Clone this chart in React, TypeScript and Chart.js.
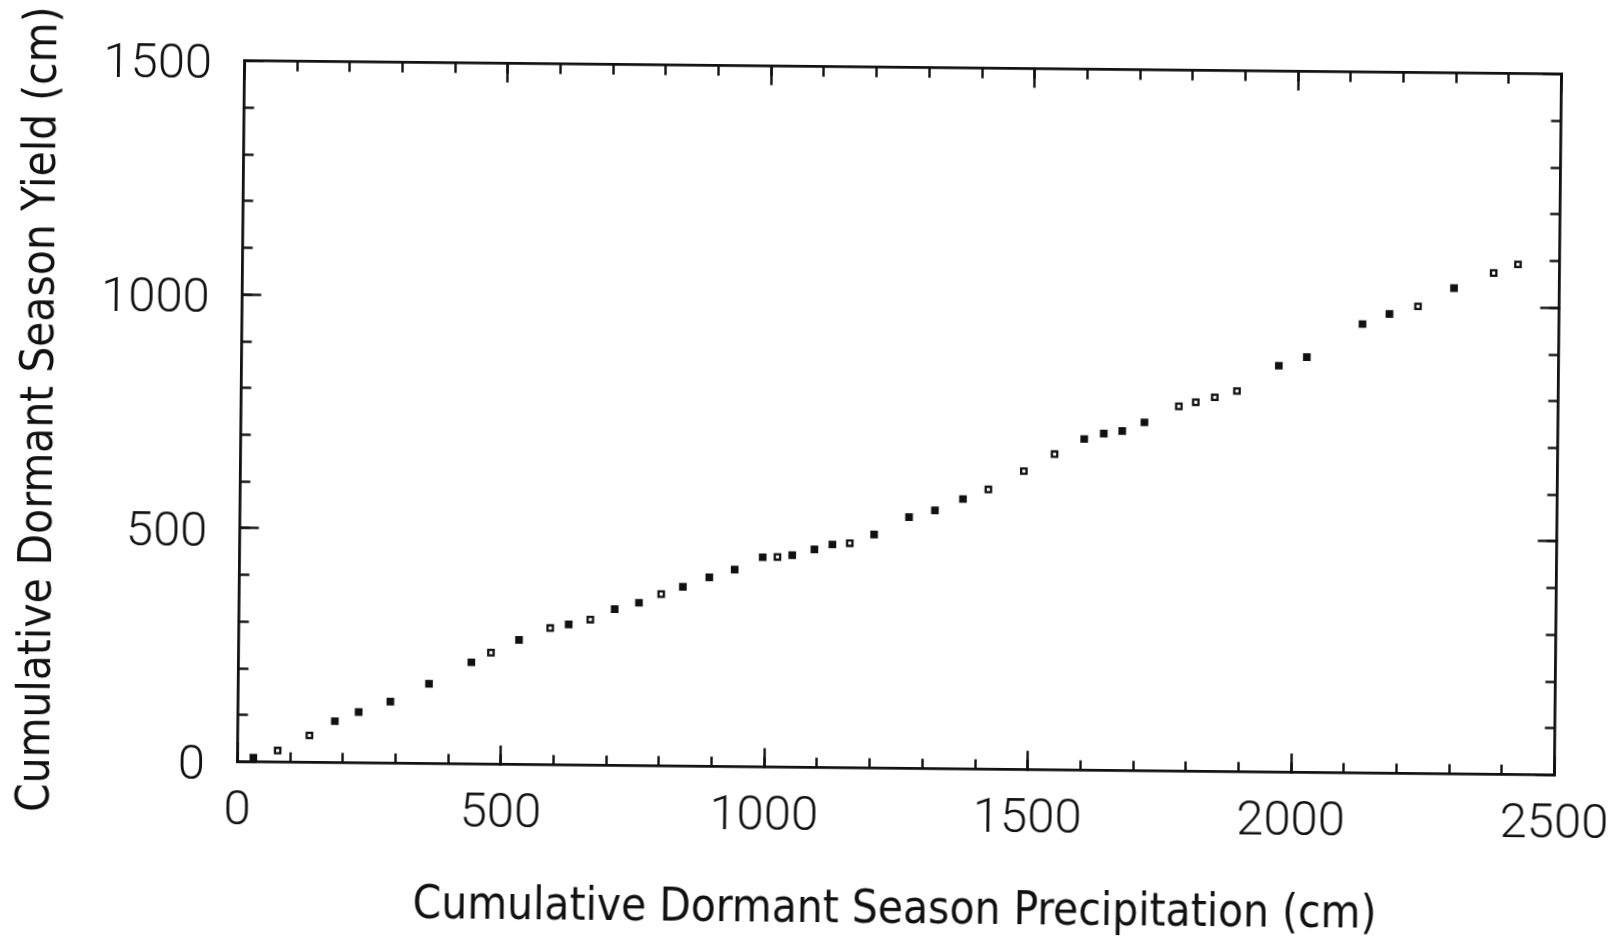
import { useEffect, useRef } from "react";
import { Chart, registerables } from "chart.js";

Chart.register(...registerables);

// ---- data ----
const precipitation = [
  30, 76, 136, 184, 229, 289, 362, 442, 479, 532, 591, 626, 667, 713, 759, 801,
  842, 892, 940, 993, 1021, 1049, 1091, 1125, 1158, 1204, 1270, 1319, 1372, 1420,
  1487, 1545, 1601, 1638, 1673, 1715, 1780, 1812, 1848, 1890, 1969, 2022, 2127,
  2178, 2232, 2300, 2375, 2421,
];
const yieldValues = [
  9, 25, 58, 89, 109, 132, 171, 218, 239, 267, 293, 301, 312, 335, 349, 368,
  384, 405, 422, 449, 450, 454, 467, 478, 481, 500, 538, 553, 578, 599,
  639, 676, 709, 721, 727, 746, 781, 790, 801, 815, 870, 889, 961,
  983, 1000, 1040, 1073, 1092,
];
// points that print as open squares in the reference
const hollowPoints = [1, 2, 8, 10, 12, 15, 20, 24, 29, 30, 31, 36, 37, 38, 39, 44, 46, 47];

const xTickValues = [0, 500, 1000, 1500, 2000, 2500];
const yTickValues = [0, 500, 1000, 1500];
const minorStep = 100;

const xTitle = "Cumulative Dormant Season Precipitation (cm)";
const yTitle = "Cumulative Dormant Season Yield (cm)";

// ---- layout / style ----
const INK = "#111111";
const W = 1623;
const H = 939;
const PLOT = { left: 240.5, top: 66.6, right: 1557.5, bottom: 767.6 };
const MAJOR = 19;
const MINOR = 10;
const TICK_FONT = { family: "Roboto, 'DejaVu Sans', sans-serif", size: 49, weight: 300, lineHeight: 1 };
const TITLE_FONT = {
  family: "'DejaVu Sans Condensed', 'DejaVu Sans', sans-serif",
  size: 45.5,
  lineHeight: 1,
};

const marks = (len: number) => ({
  display: true,
  drawOnChartArea: false,
  drawTicks: true,
  tickLength: -len,
  tickWidth: 2.4,
  tickColor: INK,
});
const frame = { display: true, color: INK, width: 2.8 };
const noBorder = { display: false };
const fixedTicks = (vals: number[]) => (s: any) => {
  s.ticks = vals.map((v) => ({ value: v }));
};
const sized = (w: number | null, h: number | null) => (s: any) => {
  if (w !== null) s.width = w;
  if (h !== null) s.height = h;
  s.paddingLeft = 0;
  s.paddingRight = 0;
  s.paddingTop = 0;
  s.paddingBottom = 0;
};

export default function App() {
  const ref = useRef<HTMLCanvasElement>(null);

  useEffect(() => {
    const points = precipitation.map((x, i) => ({ x, y: yieldValues[i] }));
    const chart = new Chart(ref.current as HTMLCanvasElement, {
      type: "scatter",
      data: {
        datasets: [
          {
            data: points,
            xAxisID: "x",
            yAxisID: "y",
            pointStyle: "rect",
            pointRadius: 3.8,
            pointHoverRadius: 3.8,
            borderWidth: 2.3,
            borderColor: INK,
            backgroundColor: (ctx: any) =>
              hollowPoints.includes(ctx.dataIndex) ? "#ffffff" : INK,
          },
        ],
      },
      options: {
        animation: false,
        responsive: false,
        devicePixelRatio: 1,
        events: [],
        layout: {
          padding: { left: 0, top: PLOT.top, right: W - PLOT.right, bottom: 0 },
        },
        plugins: { legend: { display: false }, tooltip: { enabled: false } },
        scales: {
          x: {
            type: "linear",
            position: "bottom",
            weight: 1,
            min: 0,
            max: 2500,
            afterBuildTicks: fixedTicks(xTickValues),
            ticks: {
              autoSkip: false,
              maxRotation: 0,
              padding: 45,
              font: TICK_FONT,
              color: INK,
              callback: (v: any) => String(v),
            },
            grid: marks(MAJOR),
            border: frame,
            title: {
              display: true,
              text: xTitle,
              font: TITLE_FONT,
              color: INK,
              padding: { top: 0, bottom: 6.5 },
            },
            afterFit: sized(null, H - PLOT.bottom),
          },
          xMinor: {
            type: "linear",
            position: "bottom",
            weight: 0,
            min: 0,
            max: 2500,
            ticks: { display: false, stepSize: minorStep, maxTicksLimit: 100 },
            grid: marks(MINOR),
            border: noBorder,
            afterFit: sized(null, 0),
          },
          xTop: {
            type: "linear",
            position: "top",
            min: 0,
            max: 2500,
            afterBuildTicks: fixedTicks(xTickValues),
            ticks: { display: false },
            grid: marks(MAJOR),
            border: frame,
            afterFit: sized(null, 0),
          },
          xTopMinor: {
            type: "linear",
            position: "top",
            min: 0,
            max: 2500,
            ticks: { display: false, stepSize: minorStep, maxTicksLimit: 100 },
            grid: marks(MINOR),
            border: noBorder,
            afterFit: sized(null, 0),
          },
          y: {
            type: "linear",
            position: "left",
            weight: 1,
            min: 0,
            max: 1500,
            afterBuildTicks: fixedTicks(yTickValues),
            ticks: {
              autoSkip: false,
              padding: 51.5,
              labelOffset: 5.5,
              font: TICK_FONT,
              color: INK,
              callback: (v: any) => String(v),
            },
            grid: marks(MAJOR),
            border: frame,
            title: {
              display: true,
              text: yTitle,
              font: TITLE_FONT,
              color: INK,
              padding: { top: 17, bottom: 0 },
            },
            afterFit: sized(PLOT.left, null),
          },
          yMinor: {
            type: "linear",
            position: "left",
            weight: 0,
            min: 0,
            max: 1500,
            ticks: { display: false, stepSize: minorStep, maxTicksLimit: 100 },
            grid: marks(MINOR),
            border: noBorder,
            afterFit: sized(0, null),
          },
          yRight: {
            type: "linear",
            position: "right",
            min: 0,
            max: 1500,
            afterBuildTicks: fixedTicks(yTickValues),
            ticks: { display: false },
            grid: marks(MAJOR),
            border: frame,
            afterFit: sized(0, null),
          },
          yRightMinor: {
            type: "linear",
            position: "right",
            min: 0,
            max: 1500,
            ticks: { display: false, stepSize: minorStep, maxTicksLimit: 100 },
            grid: marks(MINOR),
            border: noBorder,
            afterFit: sized(0, null),
          },
        } as any,
      },
    });
    return () => chart.destroy();
  }, []);

  return (
    <div
      style={{
        position: "fixed",
        left: 0,
        top: 0,
        width: W,
        height: H,
        background: "#ffffff",
        transform: "rotate(0.58deg)",
        transformOrigin: `${W / 2}px ${H / 2}px`,
      }}
    >
      <canvas ref={ref} width={W} height={H} style={{ display: "block" }} />
    </div>
  );
}
